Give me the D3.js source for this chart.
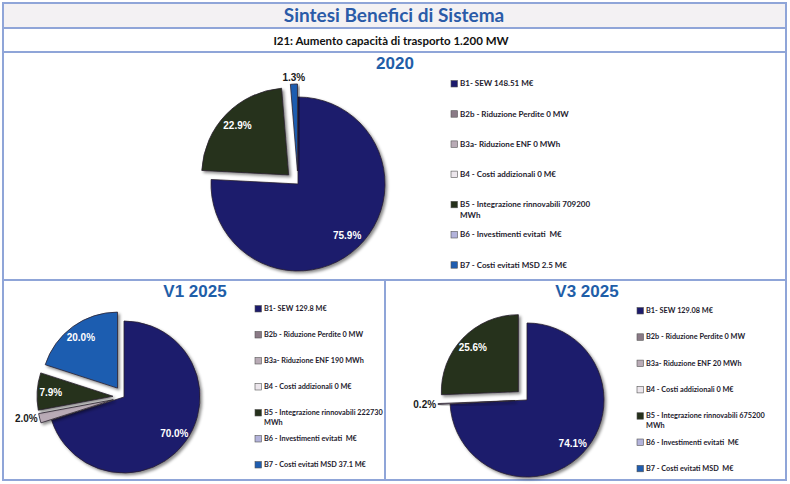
<!DOCTYPE html>
<html><head><meta charset="utf-8">
<script src="https://cdn.jsdelivr.net/npm/d3@7"></script>
<style>body{margin:0;background:#fff;overflow:hidden} text{white-space:pre}</style></head>
<body>
<svg id="c" width="790" height="484"></svg>
<script>
// ---------- DATA ----------
const categories = ["B1","B2b","B3a","B4","B5","B6","B7"];
const colors = ["#1c1a6c","#8a7a86","#b9abb6","#ece6ec","#25301b","#b3b3db","#1f5db0"];
const share2020 = [75.9, 0, 0, 0, 22.9, 0, 1.3];
const shareV1   = [70.0, 0, 2.0, 0, 7.9, 0, 20.0];
const shareV3   = [74.1, 0, 0.2, 0, 25.6, 0, 0];
const legend2020 = ["B1- SEW 148.51 M€","B2b - Riduzione Perdite 0 MW","B3a- Riduzione ENF 0 MWh","B4 - Costi addizionali 0 M€","B5 - Integrazione rinnovabili 709200|MWh","B6 - Investimenti evitati  M€","B7 - Costi evitati MSD 2.5 M€"];
const legendV1 = ["B1- SEW 129.8 M€","B2b - Riduzione Perdite 0 MW","B3a- Riduzione ENF 190 MWh","B4 - Costi addizionali 0 M€","B5 - Integrazione rinnovabili 222730|MWh","B6 - Investimenti evitati  M€","B7 - Costi evitati MSD 37.1 M€"];
const legendV3 = ["B1- SEW 129.08 M€","B2b - Riduzione Perdite 0 MW","B3a- Riduzione ENF 20 MWh","B4 - Costi addizionali 0 M€","B5 - Integrazione rinnovabili 675200|MWh","B6 - Investimenti evitati  M€","B7 - Costi evitati MSD  M€"];
const mainTitle = "Sintesi Benefici di Sistema";
const subTitle = "I21: Aumento capacità di trasporto 1.200 MW";
const panelTitles = ["2020","V1 2025","V3 2025"];

// ---------- LAYOUT ----------
const svg = d3.select("#c");
const frame = "#8fa5d8";
const defs = svg.append("defs");
const f = defs.append("filter").attr("id","sh").attr("x","-20%").attr("y","-20%").attr("width","150%").attr("height","150%");
f.append("feDropShadow").attr("dx",2).attr("dy",2).attr("stdDeviation",1.4).attr("flood-color","#000").attr("flood-opacity",0.45);

svg.append("rect").attr("x",3).attr("y",3).attr("width",783).attr("height",24).attr("fill","#f3f1f3");
svg.append("rect").attr("x",3).attr("y",3).attr("width",783).attr("height",477)
  .attr("fill","none").attr("stroke",frame).attr("stroke-width",2);
[[3,28,786,28],[3,52,786,52],[3,280,786,280],[385,280,385,480]].forEach(l=>{
  svg.append("line").attr("x1",l[0]).attr("y1",l[1]).attr("x2",l[2]).attr("y2",l[3])
    .attr("stroke",frame).attr("stroke-width",2);
});

svg.append("text").attr("x",394).attr("y",22).attr("text-anchor","middle")
  .attr("font-family","Lato, 'Open Sans', sans-serif").attr("font-weight","bold")
  .attr("font-size",19).attr("fill","#2a5ba8").text(mainTitle);
svg.append("text").attr("x",391).attr("y",45).attr("text-anchor","middle")
  .attr("font-family","Lato, 'Open Sans', sans-serif").attr("font-weight","bold")
  .attr("font-size",11.5).attr("fill","#111").text(subTitle);

function drawPie(opt){
  const {values, cx, cy, r, explode, title, tx, ty, legend, lx, ly, lstep, lfs} = opt;
  const g = svg.append("g");
  g.append("text").attr("x",tx).attr("y",ty).attr("text-anchor","middle")
    .attr("font-family","'Liberation Sans', Arial, sans-serif").attr("font-weight","bold")
    .attr("font-size",17).attr("fill","#1f5ea8").text(title);

  const data = categories.map((c,i)=>({c, v: values[i], col: colors[i], i}));
  const pie = d3.pie().sort(null).value(d=>d.v).startAngle(0).endAngle(2*Math.PI);
  const arcs = pie(data).filter(a=>a.data.v>0);
  const arc = d3.arc().innerRadius(0).outerRadius(r);
  const pg = g.append("g").attr("transform",`translate(${cx},${cy})`);
  arcs.forEach(a=>{
    const mid = (a.startAngle+a.endAngle)/2;
    const e = a.data.i===0 ? 0 : explode;
    const dx = Math.sin(mid)*e, dy = -Math.cos(mid)*e;
    a.mid = mid; a.e = e;
    pg.append("path").attr("d",arc(a)).attr("transform",`translate(${dx},${dy})`)
      .attr("fill",a.data.col).attr("stroke","#2a2230").attr("stroke-width",0.8)
      .attr("filter","url(#sh)");
  });
  arcs.forEach(a=>{
    const pct = a.data.v.toFixed(1)+"%";
    const sx = Math.sin(a.mid), sy = -Math.cos(a.mid);
    const small = a.data.v < 3;
    let x, y, anchor="middle";
    if(small){
      const rr = r + a.e + 2;
      x = sx*rr; y = sy*rr;
      if(sx < -0.5) anchor = "end"; else if (sx > 0.5) anchor = "start";
      else y += sy*5;
    } else {
      const rr = r*0.82 + a.e;
      x = sx*rr; y = sy*rr;
    }
    pg.append("text").attr("x",x).attr("y",y).attr("dy","0.35em").attr("text-anchor",anchor)
      .attr("font-family","'Liberation Sans', Arial, sans-serif").attr("font-weight","bold")
      .attr("font-size",10).attr("fill", small ? "#1a1a1a" : "#ffffff").text(pct);
  });

  const lg = g.append("g");
  legend.forEach((t,i)=>{
    const y = ly + i*lstep;
    lg.append("rect").attr("x",lx).attr("y",y-3.5).attr("width",6.5).attr("height",6.5)
      .attr("fill",colors[i]).attr("stroke","#555").attr("stroke-width",0.6);
    const lines = t.split("|");
    const tt = lg.append("text").attr("x",lx+9).attr("y",y)
      .attr("font-family","Lato, 'Open Sans', sans-serif").attr("font-weight","bold")
      .attr("font-size",lfs).attr("fill","#1e1b2e");
    lines.forEach((ln,j)=>{
      tt.append("tspan").attr("x", lx+9).attr("dy", j===0 ? "0.3em" : (lfs*1.3)+"px").text(ln);
    });
  });
}

drawPie({values:share2020, cx:298, cy:184, r:87, explode:13, title:panelTitles[0], tx:395, ty:69,
  legend:legend2020, lx:451, ly:84, lstep:30.2, lfs:8});
drawPie({values:shareV1, cx:124, cy:397, r:76, explode:11, title:panelTitles[1], tx:195, ty:297,
  legend:legendV1, lx:255, ly:309, lstep:26, lfs:7.3});
drawPie({values:shareV3, cx:527, cy:400, r:77, explode:12, title:panelTitles[2], tx:587, ty:297,
  legend:legendV3, lx:637, ly:311, lstep:26.3, lfs:7.3});
</script>
</body></html>
